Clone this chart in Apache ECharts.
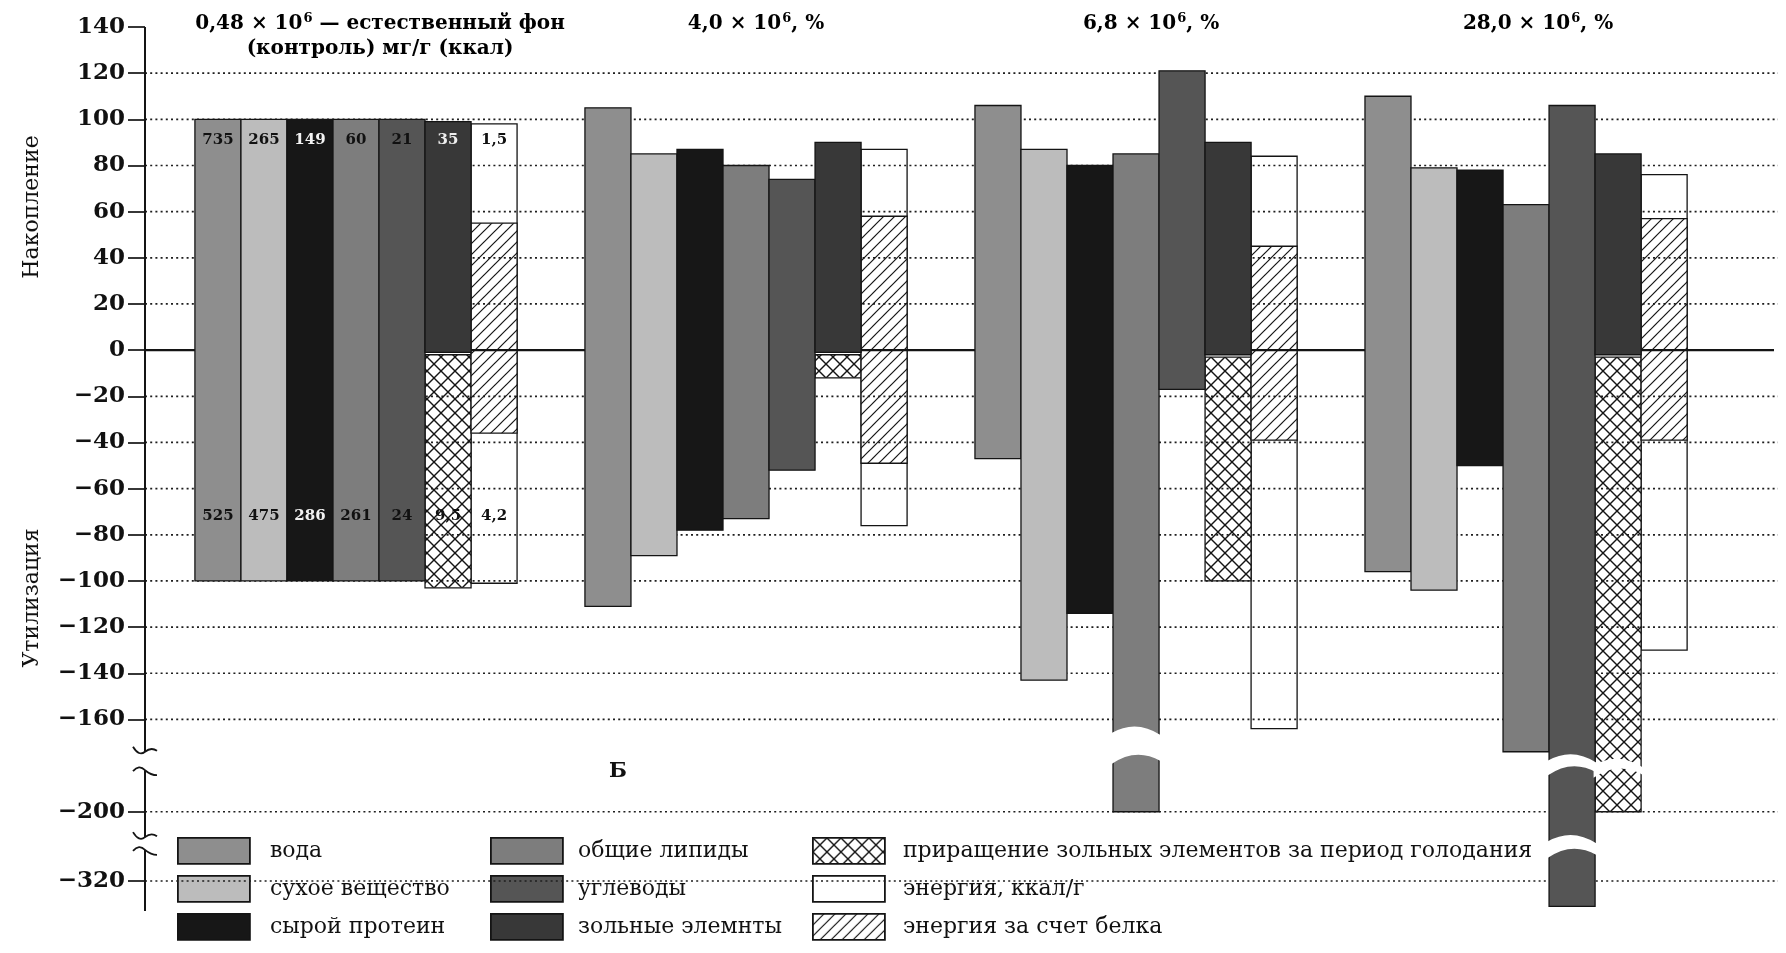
<!DOCTYPE html>
<html><head><meta charset="utf-8">
<script src="https://cdn.jsdelivr.net/npm/echarts@6/dist/echarts.min.js"></script>
<style>html,body{margin:0;padding:0;background:#fff}#c{width:1786px;height:953px}</style>
</head><body><div id="c"></div>
<script>
// ---------------- DATA ----------------
const groupTitles = [
  ['0,48 × 10', '6', ' — естественный фон', '(контроль) мг/г (ккал)'],
  ['4,0 × 10', '6', ', %', ''],
  ['6,8 × 10', '6', ', %', ''],
  ['28,0 × 10', '6', ', %', '']
];
const seriesNames = ['вода', 'сухое вещество', 'сырой протеин', 'общие липиды', 'углеводы', 'зольные элемнты',
  'приращение зольных элементов за период голодания', 'энергия, ккал/г', 'энергия за счет белка'];

// top / bottom of each bar, per group (control, 4,0, 6,8, 28,0)
const vodaTop = [100, 105, 106, 110];      const vodaBottom = [-100, -111, -47, -96];
const sukhoeTop = [100, 85, 87, 79];       const sukhoeBottom = [-100, -89, -143, -104];
const proteinTop = [100, 87, 80, 78];      const proteinBottom = [-100, -78, -114, -50];
const lipidyTop = [100, 80, 85, 63];       const lipidyBottom = [-100, -73, -200, -174];
const uglevodyTop = [100, 74, 121, 106];   const uglevodyBottom = [-100, -52, -17, -364];
const zolnyeTop = [99, 90, 90, 85];        const zolnyeBottom = [-1, -1, -2, -2];
const prirashchTop = [-2, -2, -3, -3];     const prirashchBottom = [-103, -12, -100, -200];
const energyTop = [98, 87, 84, 76];        const energyBottom = [-101, -76, -164, -130];
const belokTop = [55, 58, 45, 57];         const belokBottom = [-36, -49, -39, -39];

// numbers printed in the control group
const labelsTop = ['735', '265', '149', '60', '21', '35', '1,5'];
const labelsBottom = ['525', '475', '286', '261', '24', '9,5', '4,2'];

// y axis ticks (real values; the axis is broken below -200)
const tickValues = [140, 120, 100, 80, 60, 40, 20, 0, -20, -40, -60, -80, -100, -120, -140, -160, -200, -320];
// breaks cut into bars: group index, slot, from, to
const gapGroup = [2, 3, 3, 3];
const gapSlot = [3, 4, 4, 5];
const gapFrom = [-165, -177, -248, -179];
const gapTo = [-178, -183, -275, -184];
// y axis line pieces
const axisSegTop = [140, -182, -266];
const axisSegBottom = [-174, -244, -372];

// ---------------- SCALE HELPERS ----------------
const BREAK_AT = -200, COMPRESS = 0.25;
const tr = v => v >= BREAK_AT ? v : BREAK_AT + (v - BREAK_AT) * COMPRESS;
const inv = t => t >= BREAK_AT ? t : BREAK_AT + (t - BREAK_AT) / COMPRESS;
const X_MIN = 0.459, X_MAX = 4.646, BAR_W = 0.118;
const slotOf = [0, 1, 2, 3, 4, 5, 5, 6, 6];
const SERIF = '"DejaVu Serif", "Liberation Serif", serif';
const INK = '#141414';

function pattern(cross, size, lw, bg) {
  const c = document.createElement('canvas');
  c.width = c.height = size;
  const g = c.getContext('2d');
  if (bg) { g.fillStyle = bg; g.fillRect(0, 0, size, size); }
  g.strokeStyle = INK; g.lineWidth = lw;
  const ln = (a, b, c2, d) => { g.beginPath(); g.moveTo(a, b); g.lineTo(c2, d); g.stroke(); };
  ln(-1, size + 1, size + 1, -1); ln(-1, 1, 1, -1); ln(size - 1, size + 1, size + 1, size - 1);
  if (cross) { ln(-1, -1, size + 1, size + 1); ln(size - 1, -1, size + 1, 1); ln(-1, size - 1, 1, size + 1); }
  return { image: c, repeat: 'repeat' };
}
const crossFill = pattern(true, 14, 1.4, '#ffffff');
const hatchFill = pattern(false, 11, 1.2, '#ffffff');
const fills = ['#8e8e8e', '#bcbcbc', '#171717', '#7d7d7d', '#555555', '#383838', crossFill, '#ffffff', hatchFill];

const tops = [vodaTop, sukhoeTop, proteinTop, lipidyTop, uglevodyTop, zolnyeTop, prirashchTop, energyTop, belokTop];
const bottoms = [vodaBottom, sukhoeBottom, proteinBottom, lipidyBottom, uglevodyBottom, zolnyeBottom, prirashchBottom, energyBottom, belokBottom];
const zOf = [6, 6, 6, 6, 6, 6, 3, 2, 4];

function barSeries(k) {
  return {
    type: 'custom', name: seriesNames[k], z: zOf[k], coordinateSystem: 'cartesian2d',
    itemStyle: { color: fills[k], borderColor: INK, borderWidth: 1.6 },
    encode: { x: 0, y: [1, 2] },
    data: tops[k].map((v, i) => [i + 1, tr(v), tr(bottoms[k][i])]),
    renderItem(params, api) {
      const cx = api.value(0) + (slotOf[k] - 3) * BAR_W;
      const a = api.coord([cx - BAR_W / 2, api.value(1)]);
      const b = api.coord([cx + BAR_W / 2, api.value(2)]);
      return { type: 'rect', shape: { x: a[0], y: a[1], width: b[0] - a[0], height: b[1] - a[1] },
        style: { fill: fills[k], stroke: INK, lineWidth: 1.3 } };
    }
  };
}

const series = seriesNames.map((n, k) => barSeries(k));

// grid lines (dotted) + zero line
series.push({
  type: 'custom', z: 5, silent: true, coordinateSystem: 'cartesian2d',
  encode: { x: 0, y: 1 },
  data: tickValues.filter(v => v !== 140).map(v => [X_MIN, tr(v)]),
  renderItem(params, api) {
    const cs = params.coordSys;
    const y = api.coord([X_MIN, api.value(1)])[1];
    const zero = api.value(1) === 0;
    return { type: 'line', shape: { x1: cs.x, y1: y, x2: cs.x + cs.width - (zero ? 4 : 0), y2: y },
      style: zero ? { stroke: INK, lineWidth: 2.4 } : { stroke: '#1e1e1e', lineWidth: 1.7, lineDash: [2, 3.2] } };
  }
});

// white cuts in broken bars
series.push({
  type: 'custom', z: 8, silent: true, coordinateSystem: 'cartesian2d',
  encode: { x: 0, y: [2, 3] },
  data: gapGroup.map((g, i) => [g + 1, gapSlot[i], tr(gapFrom[i]), tr(gapTo[i])]),
  renderItem(params, api) {
    const cx = api.value(0) + (api.value(1) - 3) * BAR_W;
    const a = api.coord([cx - BAR_W / 2, api.value(2)]);
    const b = api.coord([cx + BAR_W / 2, api.value(3)]);
    const x0 = a[0] - 1.5, x1 = b[0] + 1.5, yA = a[1], yB = b[1], xm = (x0 + x1) / 2;
    return { type: 'path', shape: { pathData:
      `M${x0} ${yA + 2} Q${xm} ${yA - 12} ${x1} ${yA + 4} L${x1} ${yB} Q${xm} ${yB - 14} ${x0} ${yB + 3} Z` },
      style: { fill: '#ffffff' } };
  }
});

// numbers in the control group
function labelSeries(texts, val, colors) {
  return {
    type: 'custom', z: 9, silent: true, coordinateSystem: 'cartesian2d',
    encode: { x: 0, y: 1 },
    data: texts.map((s, i) => [1 + (i - 3) * BAR_W, val]),
    renderItem(params, api) {
      const p = api.coord([api.value(0), api.value(1)]);
      return { type: 'text', x: p[0], y: p[1],
        style: { text: texts[params.dataIndex], fill: colors[params.dataIndex], font: 'bold 15px ' + SERIF,
          align: 'center', verticalAlign: 'middle', textAlign: 'center', textVerticalAlign: 'middle' } };
    }
  };
}
series.push(labelSeries(labelsTop, 91, ['#111', '#111', '#f2f2f2', '#111', '#111', '#eeeeee', '#111']));
series.push(labelSeries(labelsBottom, -72, ['#111', '#111', '#f2f2f2', '#111', '#111', '#111', '#111']));

// broken y axis line with squiggles
series.push({
  type: 'custom', z: 10, silent: true, coordinateSystem: 'cartesian2d',
  encode: { x: 0, y: [1, 2] },
  data: axisSegTop.map((v, i) => [X_MIN, tr(v), tr(axisSegBottom[i])]),
  renderItem(params, api) {
    const x = params.coordSys.x;
    const yT = api.coord([X_MIN, api.value(1)])[1];
    const yB = api.coord([X_MIN, api.value(2)])[1];
    const kids = [{ type: 'line', shape: { x1: x, y1: yT, x2: x, y2: yB }, style: { stroke: INK, lineWidth: 2 } }];
    const sq = (y, up) => ({ type: 'path', shape: { pathData: up
        ? `M${x - 12} ${y - 5} Q${x - 6} ${y + 5} ${x} ${y} Q${x + 6} ${y - 5} ${x + 12} ${y - 1}`
        : `M${x - 12} ${y + 1} Q${x - 6} ${y - 6} ${x} ${y} Q${x + 6} ${y + 5} ${x + 12} ${y + 5}` },
      style: { stroke: INK, lineWidth: 1.8, fill: null } });
    if (params.dataIndex > 0) kids.push(sq(yT, false));
    if (params.dataIndex < axisSegTop.length - 1) kids.push(sq(yB, true));
    return { type: 'group', children: kids };
  }
});

// one legend component per entry, arranged 3 x 3
const legendCols = [177, 490, 812];
const legendRows = [837, 875, 913];
const legendTextPad = [15, 10, 13];
const legends = seriesNames.map((n, k) => {
  const col = Math.floor(k / 3), row = k % 3;
  return {
    data: [n], left: legendCols[col], top: legendRows[row], padding: 0,
    orient: 'horizontal', icon: 'rect', itemWidth: 72, itemHeight: 26, selectedMode: false,
    itemStyle: { borderColor: INK, borderWidth: 1.8 },
    textStyle: { fontFamily: SERIF, fontSize: 22, color: '#111', padding: [0, 0, 0, legendTextPad[col]] }
  };
});

const option = {
  animation: false,
  backgroundColor: '#ffffff',
  grid: { left: 145, right: 8, top: 27, bottom: 42, outerBoundsMode: 'none', containLabel: false },
  xAxis: { type: 'value', min: X_MIN, max: X_MAX, show: false },
  yAxis: {
    type: 'value', min: tr(-372), max: 140,
    axisLine: { show: false },
    splitLine: { show: false },
    axisTick: { show: true, customValues: tickValues.map(tr), length: 17, lineStyle: { color: INK, width: 1.7 } },
    axisLabel: {
      customValues: tickValues.map(tr), margin: 20, color: '#111',
      fontFamily: SERIF, fontWeight: 'bold', fontSize: 23,
      formatter: v => { const r = Math.round(inv(v)); return r < 0 ? '\u2212' + Math.abs(r) : String(r); }
    }
  },
  legend: legends,
  series
};

const chart = echarts.init(document.getElementById('c'));
chart.setOption(option);

const TITLE_DX = [24, 10, 15, 12];
const titleRich = {
  b: { fontFamily: SERIF, fontWeight: 'bold', fontSize: 20, color: '#111', lineHeight: 25, verticalAlign: 'bottom' },
  s: { fontFamily: SERIF, fontWeight: 'bold', fontSize: 13, color: '#111', lineHeight: 25, verticalAlign: 'bottom', padding: [0, 0, 9, 1] }
};
const graphics = groupTitles.map((t, i) => ({
  type: 'text', x: chart.convertToPixel({ xAxisIndex: 0 }, i + 1) + TITLE_DX[i], y: 9,
  style: {
    text: '{b|' + t[0] + '}{s|' + t[1] + '}{b|' + t[2] + '}' + (t[3] ? '\n{b|' + t[3] + '}' : ''),
    rich: titleRich, align: 'center', verticalAlign: 'top', textAlign: 'center', textVerticalAlign: 'top'
  }
}));
graphics.push({ type: 'text', x: 32, y: 207, rotation: Math.PI / 2,
  style: { text: 'Накопление', font: '22px ' + SERIF, fill: '#111', align: 'center', verticalAlign: 'middle', textAlign: 'center', textVerticalAlign: 'middle' } });
graphics.push({ type: 'text', x: 32, y: 598, rotation: Math.PI / 2,
  style: { text: 'Утилизация', font: '22px ' + SERIF, fill: '#111', align: 'center', verticalAlign: 'middle', textAlign: 'center', textVerticalAlign: 'middle' } });
graphics.push({ type: 'text', x: 618, y: 772,
  style: { text: 'Б', font: 'bold 21px ' + SERIF, fill: '#111', align: 'center', verticalAlign: 'middle', textAlign: 'center', textVerticalAlign: 'middle' } });
chart.setOption({ graphic: graphics });
</script>
</body></html>
